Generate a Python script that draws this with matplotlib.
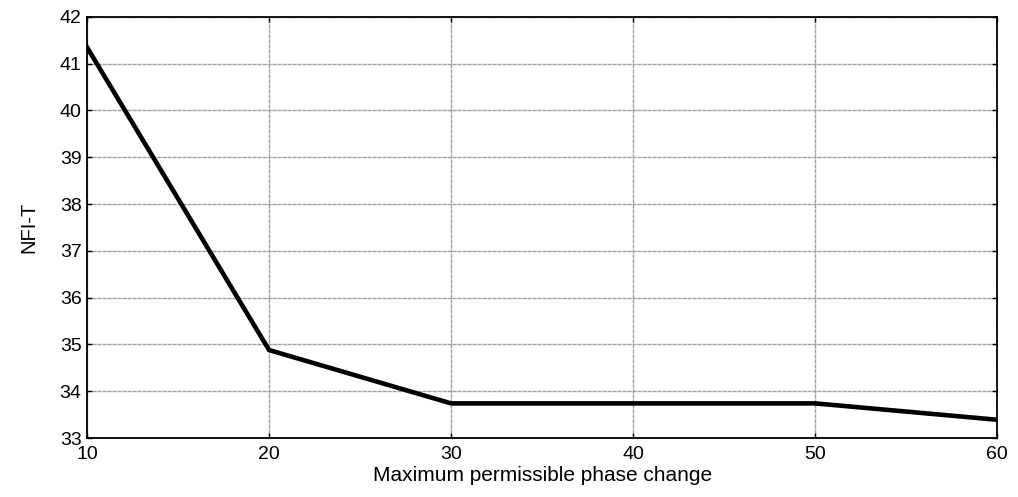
import matplotlib
matplotlib.use("Agg")
import matplotlib.pyplot as plt

x_vals = [10, 20, 30, 40, 50, 60]
nfi_t = [41.35, 34.88, 33.74, 33.74, 33.74, 33.39]
x_ticks = [10, 20, 30, 40, 50, 60]
y_ticks = [33, 34, 35, 36, 37, 38, 39, 40, 41, 42]

plt.rcParams['font.family'] = ['Liberation Sans', 'DejaVu Sans']

fig = plt.figure(figsize=(10.18, 4.97), dpi=100)
ax = fig.add_axes([0.0855, 0.1187, 0.8940, 0.8473])
ax.plot(x_vals, nfi_t, color='black', linewidth=3.3, solid_joinstyle='miter', zorder=3)
ax.set_xlim(10, 60)
ax.set_ylim(33, 42)
ax.set_xticks(x_ticks)
ax.set_yticks(y_ticks)
ax.grid(True, color='#a0a0a0', linewidth=1.0, linestyle=(0, (3, 0.6)))
ax.tick_params(direction='in', top=True, right=True, labelsize=14, length=3.5, width=1)
ax.tick_params(axis='x', pad=6)
ax.tick_params(axis='y', pad=4)
for s in ax.spines.values():
    s.set_linewidth(1.3)
    s.set_zorder(4)
ax.set_xlabel('Maximum permissible phase change', fontsize=15, labelpad=2)
ax.set_ylabel('NFI-T', fontsize=14.5, labelpad=15)
fig.savefig('out.png', dpi=100)
